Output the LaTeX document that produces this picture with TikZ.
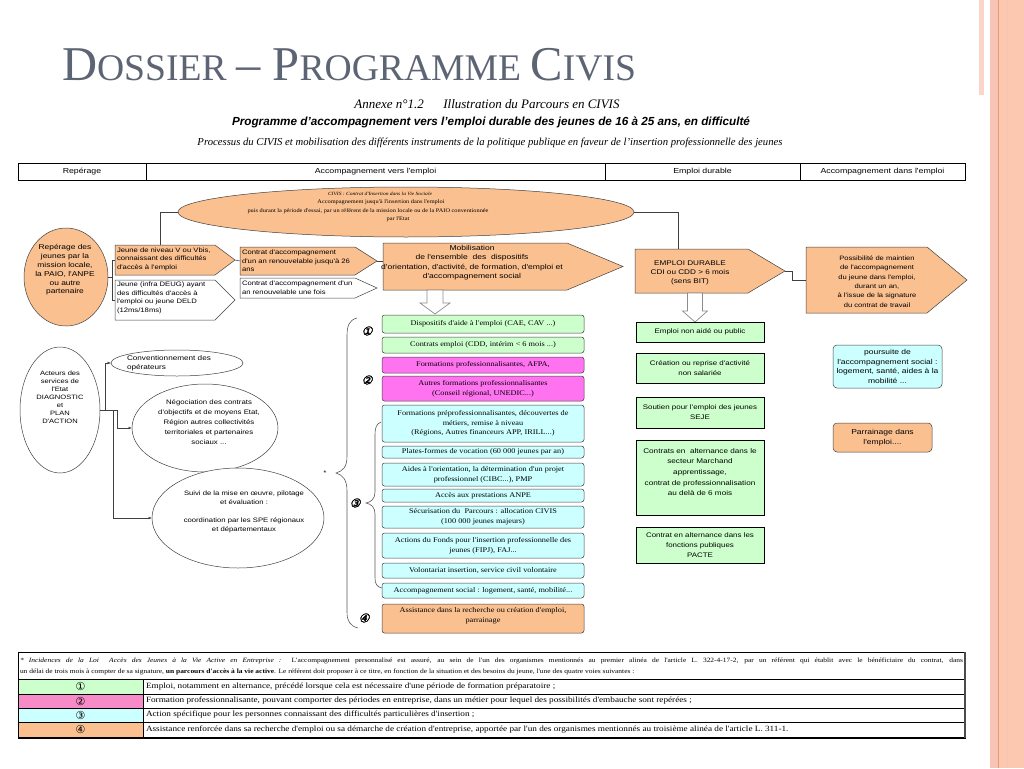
\documentclass[tikz,border=0pt]{standalone}
\usepackage{fontspec}
\usepackage{graphicx}
\setmainfont{Liberation Serif}
\setsansfont{Liberation Sans}
\newfontfamily\djv{DejaVu Sans}
\newfontfamily\markfont[FakeSlant=0.25,FakeBold=2.5]{DejaVu Sans}
\newfontfamily\wsans[FakeStretch=1.2]{Liberation Sans}
\newfontfamily\wserif[FakeStretch=1.15]{Liberation Serif}
\usetikzlibrary{shapes.geometric,arrows.meta,backgrounds,calc}
\definecolor{orng}{HTML}{FAC090}
\definecolor{grn}{HTML}{CCFFCC}
\definecolor{cyn}{HTML}{CCFFFF}
\definecolor{mag}{HTML}{FF73F0}
\definecolor{pnk}{HTML}{F68BC8}
\definecolor{ttl}{HTML}{5D6474}
\definecolor{edge}{HTML}{404040}
\definecolor{decoA}{HTML}{F7C4B5}
\definecolor{decoB}{HTML}{FDC8B0}
\definecolor{decoC}{HTML}{E59A7A}
\definecolor{decoD}{HTML}{FCD5CA}
\newcommand\fsz[2]{\fontsize{#1}{#2}\selectfont}
\newcommand\pentag[3]{\begin{pgfonlayer}{background}\draw[#3] (#1.north west) -- (#1.north east) -- ([xshift=#2]#1.east) -- (#1.south east) -- (#1.south west) -- cycle;\end{pgfonlayer}\coordinate (#1tip) at ([xshift=#2]#1.east);}
\newcommand\hollowarr[6]{\draw[harrow] ({#1-#5},#2) -- ({#1+#5},#2) -- ({#1+#5},#3) -- ({#1+#6},#3) -- (#1,#4) -- ({#1-#6},#3) -- ({#1-#5},#3) -- cycle;}
\tikzset{
  every node/.style={inner sep=0pt, outer sep=0pt},
  conn/.style={draw=edge, line width=0.5pt},
  arr/.style={draw=edge, line width=0.5pt, -{Latex[length=3.5pt,width=2.8pt]}},
  pshape/.style={draw=edge, line width=0.5pt},
  holder/.style={inner sep=0pt},
  harrow/.style={draw=black!45, fill=white, line width=0.7pt},
  ptxt/.style={font=\wsans\fsz{6.4}{8.6}, align=left, anchor=west},
  ctxt/.style={font=\wsans\fsz{6.8}{9.4}, align=center},
  elli/.style={ellipse, draw=edge, line width=0.5pt, inner sep=0pt},
  cbox/.style={draw=edge, line width=0.5pt, rounded corners=2.5pt, minimum width=202pt, inner sep=0pt, align=center, font=\wserif\fsz{7.2}{9.6}},
  rbox/.style={draw=black, line width=0.7pt, fill=grn, minimum width=128pt, inner sep=0pt, align=center, font=\wsans\fsz{6.6}{10.2}},
  rnd/.style={draw=edge, line width=0.5pt, rounded corners=4pt, inner sep=0pt, align=center, font=\wsans\fsz{7.1}{9.8}},
  hcell/.style={draw=black, line width=0.5pt, minimum height=17pt, inner sep=0pt, font=\wsans\fsz{7.3}{8}},
  tcell/.style={draw=black, line width=0.5pt, inner sep=0pt},
  ttext/.style={anchor=west, font=\wserif\fsz{8}{8.5}},
  tdigit/.style={font=\djv\fsz{11}{11}},
  numark/.style={font=\markfont\fsz{12}{12}},
  brace/.style={draw=black!65, line width=0.6pt},
  etext/.style={font=\wserif\fsz{5.5}{6}},
}
\begin{document}
\begin{tikzpicture}[x=1pt,y=-1pt]
\useasboundingbox (0,0) rectangle (1024,768);
% slide decoration
\fill[decoD] (979,0) rectangle (984,95);
\fill[decoA] (990,0) rectangle (998,768);
\fill[decoB] (998,0) rectangle (1024,768);
\draw[decoC, line width=0.7pt] (998,0) -- (998,768);
\draw[decoA, line width=0.7pt] (1007,0) -- (1007,768);
% title
\node[anchor=base west, text=ttl] (title) at (62,80) {\resizebox{574pt}{!}{\fsz{40}{40}D\fsz{31}{31}OSSIER \fsz{40}{40}– P\fsz{31}{31}ROGRAMME \fsz{40}{40}C\fsz{31}{31}IVIS}};
% headings
\node (h1) at (487,104) {\resizebox{265pt}{!}{\itshape Annexe n°1.2\hspace{1.5em}Illustration du Parcours en CIVIS}};
\node (h2) at (491,122) {\resizebox{518pt}{!}{\sffamily\bfseries\itshape Programme d'accompagnement vers l'emploi durable des jeunes de 16 à 25 ans, en difficulté}};
\node (h3) at (490,143) {\resizebox{585pt}{!}{\itshape Processus du CIVIS et mobilisation des différents instruments de la politique publique en faveur de l'insertion professionnelle des jeunes}};
% header row
\node[hcell, minimum width=128pt] (hr1) at (82,171.5) {Repérage};
\node[hcell, minimum width=459pt] (hr2) at (375.5,171.5) {Accompagnement vers l'emploi};
\node[hcell, minimum width=195pt] (hr3) at (702.5,171.5) {Emploi durable};
\node[hcell, minimum width=165pt] (hr4) at (882.5,171.5) {Accompagnement dans l'emploi};
% top ellipse
\node[elli, fill=orng, minimum width=456pt, minimum height=50pt] (civis) at (406,212) {};
\node[font=\wserif\itshape\fsz{4.8}{5}] (civ1) at (380,194) {CIVIS : Contrat d'Insertion dans la Vie Sociale};
\node[etext] (civ2) at (381,202) {Accompagnement jusqu'à l'insertion dans l'emploi};
\node[etext] (civ3) at (368,211) {puis durant la période d'essai, par un référent de la mission locale ou de la PAIO conventionnée};
\node[etext] (civ4) at (398,219) {par l'Etat};
% reperage ellipse
\node[elli, fill=orng, minimum width=84pt, minimum height=98pt] (rep) at (66,277) {};
\node[font=\wsans\fsz{7}{8.8}, align=center] (rept) at (65,270) {Repérage des\\jeunes par la\\mission locale,\\la PAIO, l'ANPE\\ou autre\\partenaire};
% pentagons
\node[holder, minimum width=100pt, minimum height=30pt] (b1) at (165,260) {};
\pentag{b1}{20pt}{pshape, fill=orng}
\node[ptxt] (b1t) at (117,259) {Jeune de niveau V ou Vbis,\\connaissant des difficultés\\d'accès à l'emploi};
\node[holder, minimum width=100pt, minimum height=40pt] (b2) at (165,300) {};
\pentag{b2}{20pt}{pshape, fill=white}
\node[ptxt] (b2t) at (117,298) {Jeune (infra DEUG) ayant\\des difficultés d'accès à\\l'emploi ou jeune DELD\\(12ms/18ms)};
\node[holder, minimum width=115pt, minimum height=28pt] (b3) at (297.5,261) {};
\pentag{b3}{22pt}{pshape, fill=orng}
\node[ptxt] (b3t) at (242,261) {Contrat d'accompagnement\\d'un an renouvelable jusqu'à 26\\ans};
\node[holder, minimum width=115pt, minimum height=20pt] (b4) at (297.5,288) {};
\pentag{b4}{22pt}{pshape, fill=white}
\node[ptxt] (b4t) at (242,287.5) {Contrat d'accompagnement d'un\\an renouvelable une fois};
\node[holder, minimum width=184pt, minimum height=47pt] (mob) at (475,266.5) {};
\pentag{mob}{56pt}{pshape, fill=orng}
\node[ctxt, font=\wsans\fsz{7.1}{9.4}] (mobt) at (472,262.5) {Mobilisation\\de l'ensemble\ \ des\ \ dispositifs\\d'orientation, d'activité, de formation, d'emploi et\\d'accompagnement social};
\node[holder, minimum width=113pt, minimum height=44pt] (emp) at (691.5,271) {};
\pentag{emp}{37pt}{pshape, fill=orng}
\node[ctxt, font=\wsans\fsz{6.8}{9}] (empt) at (690,273) {EMPLOI DURABLE\\CDI ou CDD > 6 mois\\(sens BIT)};
\node[holder, minimum width=121pt, minimum height=66pt] (pos) at (866.5,280) {};
\pentag{pos}{40pt}{pshape, fill=orng}
\node[ctxt, font=\wsans\fsz{6.3}{9.4}] (post) at (877,281.5) {Possibilité de maintien\\de l'accompagnement\\du jeune dans l'emploi,\\durant un an,\\à l'issue de la signature\\du contrat de travail};
% connectors top
\draw[conn] (civis.west) -| ([xshift=-5pt]b1.north);
\draw[conn] (civis.east) -| ([xshift=-13.5pt]emp.north);
\draw[conn] (rep.east) -- ++(4,0);
\draw[conn] (b1.west) -- ++(-3,0) |- (b2.west);
\draw[conn] (b1tip) -- (b3.west);
\draw[conn] (b3tip) -- (b3tip -| mob.west);
\draw[conn] (emptip) -- ++(7,0) |- (pos.west);
\hollowarr{435}{290}{303}{314}{8}{15}
\hollowarr{695}{293}{311}{322}{7.5}{12.5}
% left middle ellipses
\node[elli, fill=white, minimum width=80pt, minimum height=126pt] (act) at (60,410) {};
\node[font=\wsans\fsz{6.3}{8}, align=center] (actt) at (60,397) {Acteurs des\\services de\\l'Etat\\DIAGNOSTIC\\et\\PLAN\\D'ACTION};
\node[elli, fill=white, minimum width=132pt, minimum height=26pt] (conv) at (177,363) {};
\node[ptxt, font=\wsans\fsz{6.8}{8.8}] (convt) at (127,363) {Conventionnement des\\opérateurs};
\node[elli, fill=white, minimum width=146pt, minimum height=88pt] (nego) at (205,428) {};
\node[ctxt, font=\wsans\fsz{6.5}{10}] (negot) at (209,422) {Négociation des contrats\\d'objectifs et de moyens Etat,\\Région autres collectivités\\territoriales et partenaires\\sociaux ...};
\node[elli, fill=white, minimum width=172pt, minimum height=100pt] (suivi) at (238,518) {};
\node[ctxt, font=\wsans\fsz{6.4}{9}] (suivit) at (244,512) {Suivi de la mise en œuvre, pilotage\\et évaluation :\\[9pt]coordination par les SPE régionaux\\et départementaux};
\draw[arr] (act.east) -- ++(5,0) |- (conv.west);
\draw[arr] (act.east) -- ++(17,0) |- (nego.west);
\draw[arr] (act.east) -- ++(13,0) |- (suivi.west);
% braces and markers
\draw[brace] (357,318) .. controls (349,320) and (347,326) .. (347,336) -- (347,456) .. controls (347,467) and (343,471) .. (336,473) .. controls (343,475) and (347,480) .. (347,491) -- (347,612) .. controls (347,621) and (350,626) .. (358,628);
\draw[brace] (381,422) .. controls (376,424) and (375,428) .. (375,436) -- (375,492) .. controls (375,499) and (371,502) .. (366,503) .. controls (371,504) and (375,507) .. (375,514) -- (375,578) .. controls (375,584) and (377,587) .. (382,588);
\node[font=\sffamily\fsz{7}{7}] (star) at (325,473) {*};
\node[numark] (m1) at (367,331) {①};
\node[numark] (m2) at (367,380) {②};
\node[numark] (m3) at (355,503) {③};
\node[numark] (m4) at (364,618) {④};
% centre column
\node[cbox, fill=grn, minimum height=18pt] (c1) at (483,324) {Dispositifs d'aide à l'emploi (CAE, CAV ...)};
\node[cbox, fill=grn, minimum height=16pt] (c2) at (483,345) {Contrats emploi (CDD, intérim < 6 mois ...)};
\node[cbox, fill=mag, minimum height=16pt] (c3) at (483,365) {Formations professionnalisantes, AFPA,};
\node[cbox, fill=mag, minimum height=25pt] (c4) at (483,388.5) {Autres formations professionnalisantes\\(Conseil régional, UNEDIC...)};
\node[cbox, fill=cyn, minimum height=37pt] (c5) at (483,423.5) {Formations préprofessionnalisantes, découvertes de\\métiers, remise à niveau\\(Régions, Autres financeurs APP, IRILL...)};
\node[cbox, fill=cyn, minimum height=12pt] (c6) at (483,452) {Plates-formes de vocation (60 000 jeunes par an)};
\node[cbox, fill=cyn, minimum height=23pt] (c7) at (483,474.5) {Aides à l'orientation, la détermination d'un projet\\professionnel (CIBC...), PMP};
\node[cbox, fill=cyn, minimum height=13pt] (c8) at (483,495.5) {Accès aux prestations ANPE};
\node[cbox, fill=cyn, minimum height=22pt] (c9) at (483,517) {Sécurisation du\ \ Parcours : allocation CIVIS\\(100 000 jeunes majeurs)};
\node[cbox, fill=cyn, minimum height=25pt] (c10) at (483,545.5) {Actions du Fonds pour l'insertion professionnelle des\\jeunes (FIPJ), FAJ...};
\node[cbox, fill=cyn, minimum height=15pt] (c11) at (483,570.5) {Volontariat insertion, service civil volontaire};
\node[cbox, fill=cyn, minimum height=15pt] (c12) at (483,590.5) {Accompagnement social : logement, santé, mobilité...};
\node[cbox, fill=orng, minimum height=29pt] (c13) at (483,618.5) {};
\node[align=center, font=\wserif\fsz{7.2}{9.6}] (c13t) at (483,615.5) {Assistance dans la recherche ou création d'emploi,\\parrainage};
% right column
\node[rbox, minimum height=20pt] (r1) at (700,332) {Emploi non aidé ou public};
\node[rbox, minimum height=30pt] (r2) at (700,368) {Création ou reprise d'activité\\non salariée};
\node[rbox, minimum height=31pt] (r3) at (700,412.5) {Soutien pour l'emploi des jeunes\\SEJE};
\node[rbox, minimum height=75pt] (r4) at (700,477.5) {};
\node[ctxt, font=\wsans\fsz{6.8}{10.6}] (r4t) at (700,472) {Contrats en\ \ alternance dans le\\secteur Marchand\\apprentissage,\\contrat de professionnalisation\\au delà de 6 mois};
\node[rbox, minimum height=36pt] (r5) at (700,545) {Contrat en alternance dans les\\fonctions publiques\\PACTE};
\node[rnd, fill=cyn, minimum width=109pt, minimum height=43pt] (pours) at (887.5,366.5) {poursuite de\\l'accompagnement social :\\logement, santé, aides à la\\mobilité ...};
\node[rnd, fill=orng, minimum width=99pt, minimum height=29pt] (parr) at (882.5,437.5) {Parrainage dans\\l'emploi....};
% bottom table
\node[tcell, line width=0.8pt, minimum width=947pt, minimum height=86pt] (tab) at (491.5,695) {};
\node[anchor=base west, font=\wserif\fsz{6.5}{7}] (tl1) at (20,662.5) {\makebox[943pt][s]{{\itshape * Incidences de la Loi\ \ Accès des Jeunes à la Vie Active en Entreprise :}\ \ L'accompagnement personnalisé est assuré, au sein de l'un des organismes mentionnés au premier alinéa de l'article L. 322-4-17-2, par un référent qui établit avec le bénéficiaire du contrat, dans}};
\node[anchor=base west, font=\wserif\fsz{6.5}{7}] (tl2) at (20,673.5) {un délai de trois mois à compter de sa signature, \textbf{un parcours d'accès à la vie active}. Le référent doit proposer à ce titre, en fonction de la situation et des besoins du jeune, l'une des quatre voies suivantes :};
\node[tcell, tdigit, fill=grn, minimum width=125pt, minimum height=15pt] (t1a) at (80.5,686.5) {①};
\node[tcell, minimum width=822pt, minimum height=15pt] (t1b) at (554,686.5) {};
\node[tcell, tdigit, fill=pnk, minimum width=125pt, minimum height=14pt] (t2a) at (80.5,701) {②};
\node[tcell, minimum width=822pt, minimum height=14pt] (t2b) at (554,701) {};
\node[tcell, tdigit, fill=cyn, minimum width=125pt, minimum height=14pt] (t3a) at (80.5,715) {③};
\node[tcell, minimum width=822pt, minimum height=14pt] (t3b) at (554,715) {};
\node[tcell, tdigit, fill=orng, minimum width=125pt, minimum height=15pt] (t4a) at (80.5,729.5) {④};
\node[tcell, minimum width=822pt, minimum height=15pt] (t4b) at (554,729.5) {};
\node[ttext] (t1t) at (146,686.5) {Emploi, notamment en alternance, précédé lorsque cela est nécessaire d'une période de formation préparatoire ;};
\node[ttext] (t2t) at (146,701) {Formation professionnalisante, pouvant comporter des périodes en entreprise, dans un métier pour lequel des possibilités d'embauche sont repérées ;};
\node[ttext] (t3t) at (146,715) {Action spécifique pour les personnes connaissant des difficultés particulières d'insertion ;};
\node[ttext] (t4t) at (146,729.5) {Assistance renforcée dans sa recherche d'emploi ou sa démarche de création d'entreprise, apportée par l'un des organismes mentionnés au troisième alinéa de l'article L. 311-1.};
\draw[line width=1.6pt, black!70] (tab.north east) -- (tab.south east);
\end{tikzpicture}
\end{document}
